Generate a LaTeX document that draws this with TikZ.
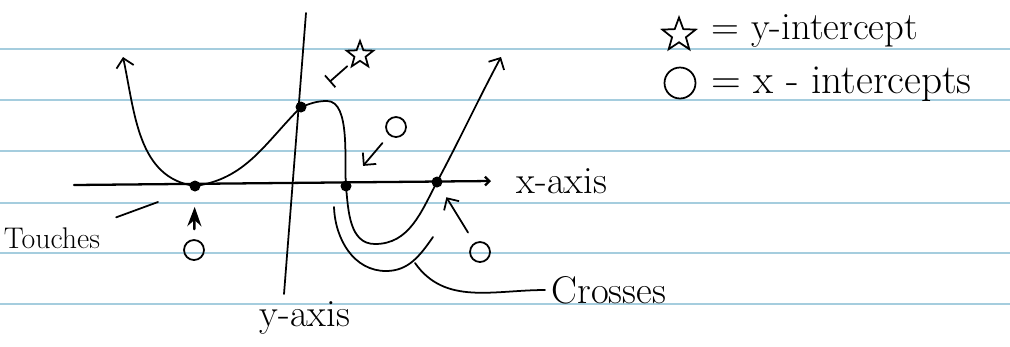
\documentclass[tikz,border=0pt]{standalone}
\usepackage{fontspec}
\usetikzlibrary{arrows.meta,shapes.geometric}
\definecolor{ruleblue}{RGB}{165,205,222}

\begin{document}
\begin{tikzpicture}[x=0.02cm,y=-0.02cm,line width=1pt,line cap=round,
  >={Straight Barb[length=5pt,width=10pt]},
  every node/.style={font=\fontsize{22}{26}\selectfont},
  dot/.style={circle,fill,inner sep=0pt,minimum size=0.22cm},
  zero/.style={circle,draw,inner sep=0pt,minimum size=0.4cm},
  starmark/.style={star,star points=5,star point ratio=2.4,draw,inner sep=0pt}]
\useasboundingbox (0,0) rectangle (1010,346);
% ruled paper
\foreach \y in {49,100,151,203,253,304}
  \draw[ruleblue,line width=1.1pt] (0,\y)--(1010,\y);
% axes
\coordinate (xl) at (74,185);
\coordinate (xr) at (491,181);
\coordinate (yt) at (306,13);
\coordinate (yb) at (284,294);
\draw[-{Straight Barb[length=2.5pt,width=5pt]},line width=1.3pt] (xl)--(xr);
\draw[] (yt)--(yb);
\node[anchor=west] (xlbl) at (510,181) {x-axis};
\node[] (ylbl) at (305,318) {y-axis};
% intercepts
\node[dot] (touch) at (195,186) {};
\node[dot] (yint) at (301,107) {};
\node[dot] (mid) at (346,186) {};
\node[dot] (rx) at (437,182) {};
% the curve
\coordinate (lt) at (123,57);
\coordinate (bump) at (327,101);
\coordinate (low) at (375,244);
\coordinate (rt) at (501,57);
\draw[<->] (lt) to[out=-78,in=172] (touch.center)
  to[out=8,in=-135] (yint.center) to[out=20,in=180] (bump)
  to[out=0,in=95,looseness=0.7] (mid.center) to[out=-85,in=180] (low)
  to[out=0,in=-118] (rx.center) to[out=62,in=-118] (rt);
% y-intercept mark
\node[starmark,minimum size=0.56cm] (ystar) at (360,55) {};
\draw[-{Bar[width=9pt]},shorten <=0.34cm,shorten >=0.76cm] (ystar.center)--(yint.center);
% x-intercept marks
\node[zero] (z1) at (194,250) {};
\node[zero] (z2) at (396,127) {};
\node[zero] (z3) at (480,252) {};
\draw[-{Stealth[length=11pt,width=8pt]},line width=1.4pt,shorten <=0.2cm,shorten >=0.29cm] (z1)--(touch);
\draw[->,shorten <=0.2cm,shorten >=0.4cm] (z2)--(mid);
\draw[->,shorten <=0.24cm,shorten >=0.23cm] (z3)--(rx);
% touches
\node[font=\fontsize{17}{20}\selectfont] (touchlbl) at (52,238) {Touches};
\coordinate (touchtip) at (158,202);
\draw[shorten <=0.2cm] (touchlbl.north east)--(touchtip);
% crosses
\node[anchor=west] (crosslbl) at (545,290) {Crosses};
\coordinate (bl) at (334,207);
\coordinate (bb) at (386,271);
\coordinate (br) at (433,237);
\coordinate (bm) at (415,263);
\draw[] (bl) to[out=-88,in=180] (bb) to[out=0,in=-125] (br);
\draw[] (bm) to[out=-55,in=180] (crosslbl.west);
% key
\node[starmark,minimum size=0.7cm] (keystar) at (679,35) {};
\node[anchor=west] (keyy) at (705,31) {= y-intercept};
\node[circle,draw,inner sep=0pt,minimum size=0.62cm] (keyo) at (680,83) {};
\node[anchor=west,font=\fontsize{23.5}{28}\selectfont] (keyx) at (705,84) {= x - intercepts};
\end{tikzpicture}
\end{document}
